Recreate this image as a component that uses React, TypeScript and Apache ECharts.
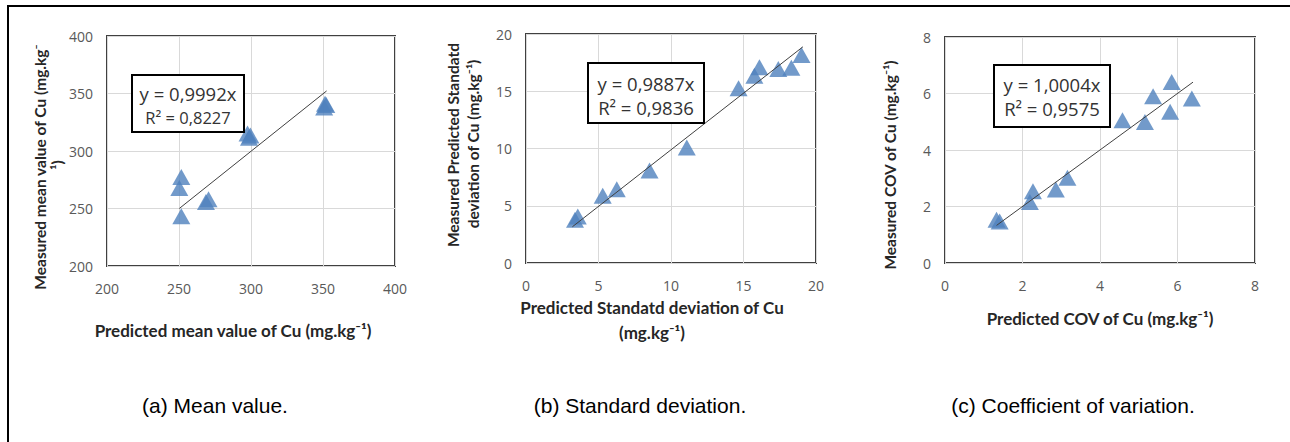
import React, { useEffect, useRef } from "react";
import * as echarts from "echarts";

// (a) Mean value
const meanPredicted = [251.6, 250.2, 251.6, 268.7, 270.5, 297.6, 298.6, 299.6, 351.4, 350.8, 352.3];
const meanMeasured = [277.4, 267.8, 243.2, 255.7, 258.0, 315.2, 311.6, 313.4, 341.0, 337.9, 340.0];
const meanSlope = 0.9992;
const meanTrendX = [250.2, 352.5];

// (b) Standard deviation
const sdPredicted = [3.38, 3.57, 5.29, 6.26, 8.52, 11.09, 14.66, 15.75, 16.1, 17.4, 18.3, 19.0];
const sdMeasured = [3.78, 4.07, 5.87, 6.45, 8.08, 10.09, 15.26, 16.35, 17.1, 16.95, 17.05, 18.17];
const sdSlope = 0.9887;
const sdTrendX = [3.2, 19.1];

// (c) Coefficient of variation
const covPredicted = [1.33, 1.41, 2.19, 2.27, 2.86, 3.16, 4.58, 5.16, 5.37, 5.81, 5.85, 6.37];
const covMeasured = [1.53, 1.47, 2.16, 2.54, 2.6, 3.02, 5.05, 4.99, 5.9, 5.35, 6.41, 5.82];
const covSlope = 1.0004;
const covTrendX = [1.33, 6.4];

const captions = ["(a) Mean value.", "(b) Standard deviation.", "(c) Coefficient of variation."];

const MARKER = "#4f81bd";
const BORDER = "#404040";
const GRIDLINE = "#d9d9d9";
const TICK = "#595959";
const TITLE = "#262626";
const TICK_FONT = "'Open Sans', sans-serif";
const TITLE_FONT = "Lato, sans-serif";

function pts(xs: number[], ys: number[]) {
  return xs.map((x, i) => [x, ys[i]]);
}
function trend(xs: number[], k: number) {
  return xs.map((x) => [x, x * k]);
}

function axis(min: number, max: number, interval: number, gridIndex: number, isX: boolean) {
  return {
    type: "value",
    gridIndex,
    min,
    max,
    interval,
    axisLine: { show: false },
    axisTick: { show: false },
    splitLine: { show: true, lineStyle: { color: GRIDLINE, width: 1 } },
    axisLabel: {
      color: TICK,
      fontFamily: TICK_FONT,
      fontSize: 14,
      margin: isX ? 15 : 14,
    },
  };
}

function eqBox(x: number, y: number, w: number, h: number, l1: string, l2: string, s1: number, s2: number, y1: number, y2: number) {
  return {
    type: "group",
    children: [
      { type: "rect", shape: { x, y, width: w, height: h }, style: { fill: "#fff", stroke: "#000", lineWidth: 2 }, z: 100 },
      {
        type: "text",
        x: x + w / 2,
        y: y1,
        style: { text: l1, fill: "#333", font: `${s1}px ${TICK_FONT}`, align: "center", verticalAlign: "middle" },
        z: 101,
      },
      {
        type: "text",
        x: x + w / 2,
        y: y2,
        style: { text: l2, fill: "#333", font: `${s2}px ${TICK_FONT}`, align: "center", verticalAlign: "middle" },
        z: 101,
      },
    ],
  };
}

function titleText(text: string, x: number, y: number, rotate: boolean) {
  return {
    type: "text",
    x,
    y,
    rotation: rotate ? Math.PI / 2 : 0,
    style: {
      text,
      fill: TITLE,
      font: `bold ${rotate ? 15.5 : 17}px ${TITLE_FONT}`,
      align: "center",
      verticalAlign: "middle",
    },
    z: 50,
  };
}

function caption(text: string, x: number) {
  return {
    type: "text",
    x,
    y: 405,
    style: { text, fill: "#000", font: "21px 'Liberation Sans', Arial, sans-serif", align: "center", verticalAlign: "middle" },
  };
}

export default function App() {
  const ref = useRef<HTMLDivElement>(null);
  useEffect(() => {
    if (!ref.current) return;
    const chart = echarts.init(ref.current, null, { renderer: "svg" });
    const scatter = (xi: number, data: number[][]) => ({
      type: "scatter",
      xAxisIndex: xi,
      yAxisIndex: xi,
      data,
      symbol: "triangle",
      symbolSize: [18, 16],
      itemStyle: { color: MARKER },
      z: 2,
    });
    const line = (xi: number, data: number[][]) => ({
      type: "line",
      xAxisIndex: xi,
      yAxisIndex: xi,
      data,
      symbol: "none",
      lineStyle: { color: BORDER, width: 1 },
      z: 3,
    });
    const gridStyle = { show: true, borderColor: BORDER, borderWidth: 2, backgroundColor: "transparent" };
    chart.setOption({
      animation: false,
      backgroundColor: "#fff",
      grid: [
        { left: 107, top: 36, width: 288, height: 230, ...gridStyle },
        { left: 526, top: 34, width: 290, height: 229, ...gridStyle },
        { left: 945, top: 37, width: 310, height: 226, ...gridStyle },
      ],
      xAxis: [axis(200, 400, 50, 0, true), axis(0, 20, 5, 1, true), axis(0, 8, 2, 2, true)],
      yAxis: [axis(200, 400, 50, 0, false), axis(0, 20, 5, 1, false), axis(0, 8, 2, 2, false)],
      series: [
        scatter(0, pts(meanPredicted, meanMeasured)),
        line(0, trend(meanTrendX, meanSlope)),
        scatter(1, pts(sdPredicted, sdMeasured)),
        line(1, trend(sdTrendX, sdSlope)),
        scatter(2, pts(covPredicted, covMeasured)),
        line(2, trend(covTrendX, covSlope)),
      ],
      graphic: [
        { type: "rect", shape: { x: 8, y: 6, width: 1400, height: 600 }, style: { fill: "none", stroke: "#000", lineWidth: 2 } },
        eqBox(132, 75, 112, 57, "y = 0,9992x", "R² = 0,8227", 18.5, 16.5, 93, 117),
        eqBox(588, 63, 116, 60, "y = 0,9887x", "R² = 0,9836", 18.5, 18.5, 83, 107),
        eqBox(994, 65, 116, 62, "y = 1,0004x", "R² = 0,9575", 18.5, 18.5, 84, 108),
        titleText("Measured mean value of Cu (mg.kg⁻", 40, 167, true),
        titleText("¹)", 57, 165, true),
        titleText("Predicted mean value of Cu (mg.kg⁻¹)", 233, 330, false),
        titleText("Measured Predicted Standatd", 453, 145, true),
        titleText("deviation of Cu (mg.kg⁻¹)", 473, 144, true),
        titleText("Predicted Standatd deviation of Cu", 652, 307, false),
        titleText("(mg.kg⁻¹)", 652, 332, false),
        titleText("Measured COV of Cu (mg.kg⁻¹)", 890, 165, true),
        titleText("Predicted COV of Cu (mg.kg⁻¹)", 1100, 318, false),
        caption(captions[0], 215),
        caption(captions[1], 640),
        caption(captions[2], 1073),
      ],
    });
    return () => chart.dispose();
  }, []);
  return <div ref={ref} style={{ position: "absolute", left: 0, top: 0, width: 1290, height: 442 }} />;
}
